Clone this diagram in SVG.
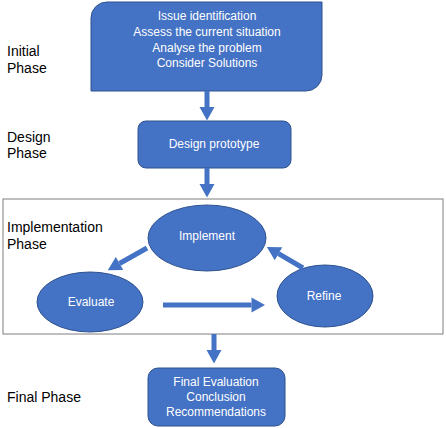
<svg xmlns="http://www.w3.org/2000/svg" width="446" height="428" viewBox="0 0 446 428">
<style>
.lbl{font-family:"Liberation Sans",Arial,sans-serif;font-size:14px;fill:#000}
.nt{font-family:"Liberation Sans",Arial,sans-serif;font-size:12px;fill:#fff;text-anchor:middle}
.shape{fill:#4472C4;stroke:#2F528F;stroke-width:1}
.arr{stroke:#4472C4;stroke-width:5;fill:none;marker-end:url(#ah)}
</style>
<defs>
<marker id="ah" markerUnits="userSpaceOnUse" markerWidth="16" markerHeight="18" refX="0" refY="7.5" orient="auto" viewBox="0 0 16 15" overflow="visible">
<path d="M0,0 L13.5,7.5 L0,15 Z" fill="#4472C4"/>
</marker>
</defs>
<rect width="446" height="428" fill="#fff"/>
<g id="phase-labels">
<text class="lbl" x="7" y="56">Initial</text>
<text class="lbl" x="7" y="73">Phase</text>
<text class="lbl" x="7" y="142">Design</text>
<text class="lbl" x="7" y="158">Phase</text>
<text class="lbl" x="7" y="232">Implementation</text>
<text class="lbl" x="7" y="249">Phase</text>
<text class="lbl" x="7" y="402">Final Phase</text>
</g>
<g id="implementation-frame">
<rect x="3" y="199" width="440" height="135" fill="none" stroke="#7F7F7F" stroke-width="1"/>
</g>
<g id="initial">
<path class="shape" d="M107,2 H322 V75 A16,16 0 0 1 306,91 H91 V18 A16,16 0 0 1 107,2 Z"/>
<text class="nt" x="207" y="20">Issue identification</text>
<text class="nt" x="207" y="36">Assess the current situation</text>
<text class="nt" x="207" y="52">Analyse the problem</text>
<text class="nt" x="207" y="67">Consider Solutions</text>
</g>
<g id="design">
<rect class="shape" x="138" y="121" width="153" height="47" rx="8"/>
<text class="nt" x="214" y="148">Design prototype</text>
</g>
<g id="implement">
<ellipse class="shape" cx="207" cy="238" rx="59" ry="33"/>
<text class="nt" x="207" y="240">Implement</text>
</g>
<g id="evaluate">
<ellipse class="shape" cx="90" cy="302" rx="53" ry="30"/>
<text class="nt" x="91" y="306">Evaluate</text>
</g>
<g id="refine">
<ellipse class="shape" cx="325" cy="296" rx="48" ry="31"/>
<text class="nt" x="324" y="300">Refine</text>
</g>
<g id="final">
<rect class="shape" x="148" y="368" width="137" height="58" rx="10"/>
<text class="nt" x="216" y="386">Final Evaluation</text>
<text class="nt" x="216" y="401">Conclusion</text>
<text class="nt" x="216" y="416">Recommendations</text>
</g>
<g id="connectors">
<line class="arr" x1="207" y1="91" x2="207" y2="107"/>
<line class="arr" x1="207" y1="168" x2="207" y2="184"/>
<line class="arr" x1="147" y1="248" x2="119.5" y2="263.5"/>
<line class="arr" x1="163" y1="305" x2="251.5" y2="305"/>
<line class="arr" x1="303" y1="268" x2="278.5" y2="253.7"/>
<line class="arr" x1="214" y1="334" x2="214" y2="350"/>
</g>
</svg>
